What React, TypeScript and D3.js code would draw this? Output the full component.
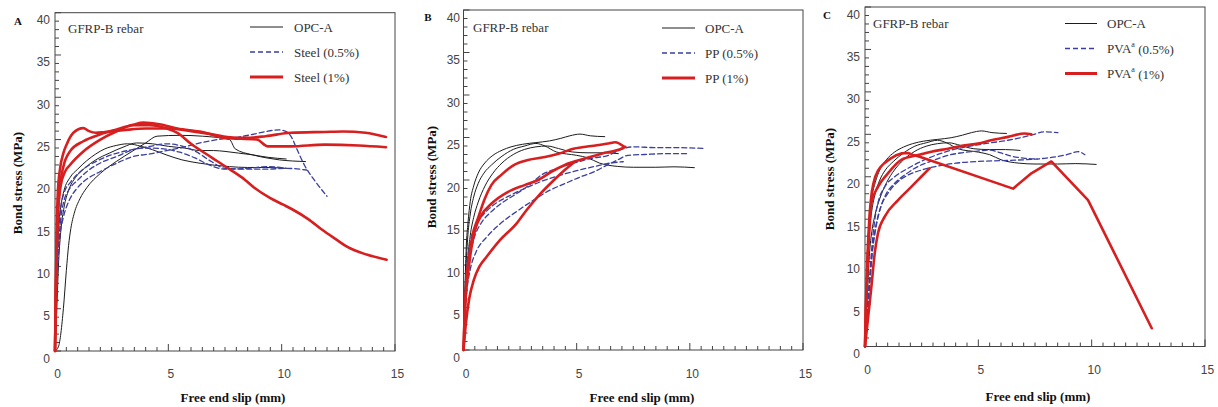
import React from 'react';
import * as d3 from 'd3';

type Pt = [number, number];

// ---------- tick labels / texts ----------
const X_TICKS = [0, 5, 10, 15];
const Y_TICKS = [0, 5, 10, 15, 20, 25, 30, 35, 40];
const PANEL_LETTERS = ['A', 'B', 'C'];
const NOTE = 'GFRP-B rebar';
const X_TITLE = 'Free end slip (mm)';
const Y_TITLE = 'Bond stress (MPa)';
const LEGEND_A = ['OPC-A', 'Steel (0.5%)', 'Steel (1%)'];
const LEGEND_B = ['OPC-A', 'PP (0.5%)', 'PP (1%)'];
const LEGEND_C = ['OPC-A', 'PVA^a (0.5%)', 'PVA^a (1%)'];

// ---------- Panel A data (slip mm, stress MPa) ----------
const A_OPC_1: Pt[] = [[0,0],[0.15,0.5],[0.37,5],[0.5,9.5],[0.6,12.5],[0.7,14.5],[0.85,16.3],[1.1,18],[1.4,19.3],[2,21],[2.7,22.4],[3.4,23.6],[4,24.6],[4.5,25.4],[5.5,25.5],[6.5,25.4],[7.7,25.0],[7.95,23.9],[8.7,23.2],[9.4,22.8],[9.9,22.6],[11.05,22.4]];
const A_OPC_2: Pt[] = [[0,0],[0.05,6],[0.1,11],[0.15,14.5],[0.25,17],[0.4,19],[0.66,20.5],[1,21.5],[1.4,22.5],[1.8,23.3],[2.2,23.9],[2.7,24.3],[3.2,24.5],[3.8,24.2],[4.3,23.8],[4.9,23.2],[5.6,22.6],[6.4,22.2],[7.7,21.8],[8.5,21.7],[9.3,21.7],[10.2,21.6]];
const A_OPC_3: Pt[] = [[0,0],[0.08,5],[0.15,10],[0.25,14],[0.4,17],[0.6,19],[0.9,20.5],[1.3,21.6],[1.8,22.6],[2.4,23.4],[3,24.1],[3.6,24.6],[4.3,24.5],[5,24.2],[5.7,24],[6.4,23.7],[7,23.7],[7.5,23.6],[8.1,23.4],[8.7,23.2],[9.4,22.9],[10.2,22.7]];
const A_STEEL05_1: Pt[] = [[0,0],[0.05,5],[0.12,10],[0.2,13.2],[0.35,15.6],[0.5,17],[0.66,18],[0.96,19.2],[1.25,20],[1.98,21.2],[2.72,22.2],[3.45,23],[4.19,23.3],[4.93,23.7],[5.66,24.1],[6.4,24.6],[7.72,25.2],[8.1,25.3],[8.7,25.6],[9.4,26.0],[9.85,26.15],[10.2,25.95],[10.45,25.2],[10.65,24],[11.0,22],[11.5,20],[12.0,18.3]];
const A_STEEL05_2: Pt[] = [[0,0],[0.06,6],[0.15,12],[0.25,15.5],[0.4,17.8],[0.6,19],[1,20.2],[1.4,21.2],[1.98,22.2],[2.72,23],[3.45,23.8],[4.19,24.2],[4.9,24.5],[5.5,24.3],[6.2,23.6],[6.9,22.4],[7.5,21.6],[8.5,21.5],[9.3,21.5],[10.2,21.6],[11.1,21.4]];
const A_STEEL05_3: Pt[] = [[0,0],[0.05,6],[0.12,12],[0.22,16],[0.4,18.7],[0.7,20],[1.2,21.4],[1.8,22.4],[2.5,23.2],[3.2,23.7],[4,24],[4.8,23.9],[5.5,23.5],[6.2,22.8],[6.8,22],[7.5,21.5],[8.5,21.6],[9.4,21.8],[10.2,21.6]];
const A_STEEL1_1: Pt[] = [[0,0],[0.04,8],[0.08,15],[0.13,19],[0.22,21.5],[0.37,23.4],[0.51,24.4],[0.81,25.8],[1.25,26.35],[1.5,26.0],[1.8,25.8],[2.2,25.9],[3,26.1],[4,26.3],[5,26.3],[6,26.0],[7,25.6],[7.6,25.3],[8.4,25.2],[9.3,25.4],[10.4,25.8],[11.9,25.9],[12.7,25.95],[13.7,25.8],[14.6,25.3]];
const A_STEEL1_2: Pt[] = [[0,0],[0.05,8],[0.1,14],[0.2,19],[0.37,21.8],[0.66,23.6],[1.25,24.8],[1.98,25.6],[2.72,26.2],[3.45,26.75],[3.9,27.0],[4.6,26.8],[5.4,26.3],[6.5,25.9],[7.5,25.2],[8.9,25.0],[9.4,24.2],[10.4,24.2],[11.9,24.4],[13.4,24.3],[14.6,24.1]];
const A_STEEL1_3: Pt[] = [[0,0],[0.05,9],[0.12,16],[0.25,19.5],[0.44,21.2],[0.66,22],[1.25,23.6],[2,25],[2.7,25.95],[3.45,26.7],[4.2,26.7],[4.9,26.35],[5.4,25.8],[6,24.5],[6.9,22.9],[7.7,21.5],[8.4,20.2],[8.75,19.4],[9.48,18.1],[10.07,17.3],[10.5,16.7],[11.17,15.6],[11.8,14.3],[12.4,13.2],[12.9,12.3],[13.75,11.4],[14.63,10.8]];

// ---------- Panel B data ----------
const B_OPC_1: Pt[] = [[0,0],[0.03,4],[0.07,8],[0.12,12],[0.2,15],[0.3,17.5],[0.45,19.3],[0.65,20.8],[0.94,22],[1.3,22.9],[1.7,23.5],[2.1,23.9],[2.6,24.2],[3.2,24.4],[3.8,24.6],[4.3,24.9],[4.7,25.2],[5.15,25.4],[5.6,25.2],[6.24,25.1]];
const B_OPC_2: Pt[] = [[0,0],[0.04,4],[0.1,9],[0.18,13],[0.3,16],[0.45,18],[0.65,19.6],[0.9,20.8],[1.25,21.8],[1.7,22.8],[2.2,23.6],[2.7,24.0],[3.2,24.3],[3.6,24.0],[4.1,23.3],[5,22.9],[5.5,22.6],[6,22],[6.8,21.6],[7.5,21.5],[8.5,21.5],[9.3,21.55],[10.2,21.45]];
const B_OPC_3: Pt[] = [[0,0],[0.05,3],[0.12,7],[0.2,11],[0.3,13.5],[0.45,15.6],[0.65,17.4],[0.95,19.3],[1.3,20.8],[1.7,22],[2.2,23],[2.7,23.6],[3.2,23.9],[3.7,24.0],[4.2,23.7],[4.8,23.3],[5.5,23.2],[6.2,23.2],[6.84,23.1]];
const B_PP05_1: Pt[] = [[0,0],[0.05,4],[0.12,7.5],[0.25,10.5],[0.45,13],[0.75,14.8],[1.2,16.2],[1.7,17.3],[2.35,18.4],[2.9,19.4],[3.45,20.6],[4.2,21.4],[4.9,22],[5.65,22.55],[6.4,22.9],[6.97,23.6],[7.5,23.9],[8.6,23.8],[9.5,23.8],[10.67,23.7]];
const B_PP05_2: Pt[] = [[0,0],[0.06,4],[0.15,7],[0.3,9.5],[0.55,11.5],[1.03,13.3],[1.6,14.8],[2.35,16.3],[3.08,17.6],[3.82,18.8],[4.5,19.6],[5.2,20.4],[5.8,21],[6.3,21.7],[6.8,22.35],[7.27,22.9],[8,23.0],[9,23.1],[9.93,23.1]];
const B_PP05_3: Pt[] = [[0,0],[0.05,5],[0.12,9],[0.25,12],[0.5,14.5],[0.9,16],[1.4,17.2],[2,18.1],[2.7,19],[3.4,19.8],[4.2,20.5],[5,21.1],[5.8,21.6],[6.5,22],[7.06,22.15]];
const B_PP1_1: Pt[] = [[0,0],[0.05,4],[0.12,8],[0.25,11],[0.4,13.5],[0.64,15.5],[0.94,17.8],[1.23,19.4],[1.67,20.6],[2.26,21.8],[2.85,22.35],[3.6,22.7],[4.2,23.1],[4.9,23.7],[5.65,24.0],[6.4,24.3],[6.7,24.45],[7.1,23.9]];
const B_PP1_2: Pt[] = [[0,0],[0.05,4],[0.12,7],[0.2,9],[0.35,12],[0.5,14],[0.8,15.9],[1.23,17.2],[1.97,18.6],[2.7,19.4],[3.3,20.0],[3.9,21],[4.5,21.8],[5.4,22.55],[6.1,23.1],[7,23.7],[7.15,23.9]];
const B_PP1_3: Pt[] = [[0,0],[0.1,3],[0.25,6],[0.45,8.2],[0.7,9.8],[1.03,11],[1.6,12.9],[2.35,14.9],[2.8,16.5],[3.4,18.4],[4,20],[4.4,21],[4.85,22]];

// ---------- Panel C data ----------
const C_OPC_1: Pt[] = B_OPC_1;
const C_OPC_2: Pt[] = B_OPC_2;
const C_OPC_3: Pt[] = B_OPC_3;
const C_PVA05_1: Pt[] = [[0,0],[0.1,4],[0.2,8],[0.28,11],[0.43,14.9],[0.57,16.9],[0.87,18.8],[1.31,20],[1.9,21],[2.63,22],[3.52,22.9],[4.4,23.5],[5.28,23.9],[6.31,24.3],[7.34,24.9],[7.93,25.3],[8.51,25.2]];
const C_PVA05_2: Pt[] = [[0,0],[0.08,3],[0.15,6],[0.25,9],[0.35,12],[0.5,14.5],[0.7,16.5],[1,18],[1.4,19.3],[1.9,20.2],[2.5,20.8],[3.1,21.2],[4,21.6],[5,21.8],[6,21.9],[7,22.0],[8,22.2],[8.9,22.6],[9.4,22.95],[9.7,22.6]];
const C_PVA05_3: Pt[] = [[0,0],[0.1,3],[0.2,7],[0.3,10.5],[0.45,13.5],[0.65,16],[0.9,17.8],[1.3,19.2],[1.8,20.3],[2.4,21.3],[3.0,21.9],[3.5,22.4],[4.2,22.8],[4.9,23.0],[5.5,23.15],[6.0,22.8],[6.5,22.4],[7,22.2],[7.6,22.1]];
const C_PVA1_1: Pt[] = [[0,0],[0.03,4],[0.06,7],[0.1,10],[0.13,12],[0.17,14],[0.2,15.5],[0.25,17],[0.3,18.2],[0.37,19.2],[0.45,20],[0.57,20.7],[0.7,21.2],[0.85,21.6],[1.0,21.9],[1.16,22.2],[1.35,22.5],[1.6,22.75],[1.9,22.8],[2.1,22.6],[2.41,22.35],[6.53,18.6],[7.34,20.4],[8.22,21.8],[9.84,17.25],[12.65,2.15]];
const C_PVA1_2: Pt[] = [[0,0],[0.05,5],[0.12,10],[0.2,14],[0.28,16.9],[0.57,18.8],[1.01,20.4],[1.6,22],[2.34,22.55],[2.92,22.95],[3.66,23.3],[4.4,23.7],[4.98,23.9],[5.57,24.3],[6.31,24.7],[7.04,25.1],[7.34,25.0]];
const C_PVA1_3: Pt[] = [[0,0],[0.12,3],[0.28,7],[0.43,11],[0.57,13.3],[0.87,15.3],[1.46,17.25],[2.04,18.8],[2.48,20],[2.85,21]];

type Series = { data: Pt[]; kind: 'opc' | 'half' | 'one'; linear?: boolean };

const PANEL_SERIES: Series[][] = [
  [
    { data: A_OPC_1, kind: 'opc' }, { data: A_OPC_2, kind: 'opc' }, { data: A_OPC_3, kind: 'opc' },
    { data: A_STEEL05_1, kind: 'half' }, { data: A_STEEL05_2, kind: 'half' }, { data: A_STEEL05_3, kind: 'half' },
    { data: A_STEEL1_1, kind: 'one' }, { data: A_STEEL1_2, kind: 'one' }, { data: A_STEEL1_3, kind: 'one' },
  ],
  [
    { data: B_OPC_1, kind: 'opc' }, { data: B_OPC_2, kind: 'opc' }, { data: B_OPC_3, kind: 'opc' },
    { data: B_PP05_1, kind: 'half' }, { data: B_PP05_2, kind: 'half' }, { data: B_PP05_3, kind: 'half' },
    { data: B_PP1_1, kind: 'one' }, { data: B_PP1_2, kind: 'one' }, { data: B_PP1_3, kind: 'one' },
  ],
  [
    { data: C_OPC_1, kind: 'opc' }, { data: C_OPC_2, kind: 'opc' }, { data: C_OPC_3, kind: 'opc' },
    { data: C_PVA05_1, kind: 'half' }, { data: C_PVA05_2, kind: 'half' }, { data: C_PVA05_3, kind: 'half' },
    { data: C_PVA1_1, kind: 'one', linear: true }, { data: C_PVA1_2, kind: 'one' }, { data: C_PVA1_3, kind: 'one' },
  ],
];
const LEGENDS = [LEGEND_A, LEGEND_B, LEGEND_C];

// ---------- layout (pixels) ----------
const LAYOUT = [
  { left: 55, right: 395, top: 12.7, bottom: 351, letter: [18, 21], note: [68, 28], leg: [250, 283, 294, 27], yT: [17, 183], xT: [233, 397], xTickY: 374, yLabR: 50 },
  { left: 463.5, right: 803, top: 10, bottom: 350, letter: [428, 17], note: [473, 27], leg: [662, 695, 705, 28], yT: [431, 177], xT: [642, 397], xTickY: 374, yLabR: 460 },
  { left: 865, right: 1205, top: 7, bottom: 346.5, letter: [827, 15], note: [873, 23], leg: [1065, 1097, 1107, 23.5], yT: [829, 179], xT: [1038, 396], xTickY: 370, yLabR: 860 },
];

const STYLE = {
  opc: { stroke: '#1c1c1c', width: 1, dash: undefined as string | undefined },
  half: { stroke: '#3a3f9e', width: 1.3, dash: '5,3' },
  one: { stroke: '#d71f1f', width: 2.6, dash: undefined as string | undefined },
};
const KINDS: ('opc' | 'half' | 'one')[] = ['opc', 'half', 'one'];

const SERIF = '"Liberation Serif", "Times New Roman", serif';
const SANS = '"Liberation Sans", Arial, sans-serif';

function LegendLabel({ text }: { text: string }) {
  const i = text.indexOf('^');
  if (i < 0) return <>{text}</>;
  const base = text.slice(0, i);
  const sup = text.slice(i + 1, i + 2);
  const rest = text.slice(i + 2);
  return (
    <>
      {base}
      <tspan fontSize={8} dy={-5}>{sup}</tspan>
      <tspan dy={5}>{rest}</tspan>
    </>
  );
}

function Panel({ idx }: { idx: number }) {
  const L = LAYOUT[idx];
  const x = d3.scaleLinear().domain([0, 15]).range([L.left, L.right]);
  const y = d3.scaleLinear().domain([0, 40]).range([L.bottom, L.top]);
  const smooth = d3.line<Pt>().x(d => x(d[0])).y(d => y(d[1])).curve(d3.curveMonotoneX);
  const straight = d3.line<Pt>().x(d => x(d[0])).y(d => y(d[1])).curve(d3.curveLinear);
  const xMinor = d3.range(0, 15.001, 0.5);
  const yMinor = d3.range(0, 40.001, 1);
  const series = PANEL_SERIES[idx];
  const legend = LEGENDS[idx];
  return (
    <g>
      <rect x={L.left} y={L.top} width={L.right - L.left} height={L.bottom - L.top} fill="none" stroke="#444" strokeWidth={1} />
      {xMinor.map(v => {
        const major = Math.abs(v % 5) < 1e-6;
        return <line key={'xt' + v} x1={x(v)} x2={x(v)} y1={L.bottom} y2={L.bottom - (major ? 7 : 4)} stroke="#444" strokeWidth={1} />;
      })}
      {yMinor.map(v => {
        const major = Math.abs(v % 5) < 1e-6;
        return <line key={'yt' + v} x1={L.left} x2={L.left + (major ? 6 : 4)} y1={y(v)} y2={y(v)} stroke="#444" strokeWidth={1} />;
      })}
      {X_TICKS.map(v => (
        <text key={'xl' + v} x={x(v) + 2.5} y={L.xTickY} textAnchor="middle" dominantBaseline="central" fontFamily={SANS} fontSize={12} fill="#444">{v}</text>
      ))}
      {Y_TICKS.map(v => (
        <text key={'yl' + v} x={L.yLabR} y={y(v) + 7.5} textAnchor="end" dominantBaseline="central" fontFamily={SANS} fontSize={12} fill="#444">{v}</text>
      ))}
      <text x={L.xT[0]} y={L.xT[1]} textAnchor="middle" dominantBaseline="central" fontFamily={SERIF} fontWeight="bold" fontSize={13} fill="#111">{X_TITLE}</text>
      <text transform={`translate(${L.yT[0]},${L.yT[1]}) rotate(-90)`} textAnchor="middle" dominantBaseline="central" fontFamily={SERIF} fontWeight="bold" fontSize={13} fill="#111">{Y_TITLE}</text>
      <text x={L.letter[0]} y={L.letter[1]} textAnchor="middle" dominantBaseline="central" fontFamily={SERIF} fontWeight="bold" fontSize={11} fill="#111">{PANEL_LETTERS[idx]}</text>
      <text x={L.note[0]} y={L.note[1]} dominantBaseline="central" fontFamily={SERIF} fontSize={13} fill="#333">{NOTE}</text>
      {KINDS.map(k =>
        series.filter(s => s.kind === k).map((s, i) => (
          <path key={k + i} d={(s.linear ? straight : smooth)(s.data) || ''} fill="none"
            stroke={STYLE[k].stroke} strokeWidth={STYLE[k].width} strokeDasharray={STYLE[k].dash}
            strokeLinejoin="round" strokeLinecap="round" />
        ))
      )}
      {KINDS.map((k, i) => {
        const yy = L.leg[3] + i * 25;
        return (
          <g key={'lg' + k}>
            <line x1={L.leg[0]} x2={L.leg[1]} y1={yy} y2={yy} stroke={STYLE[k].stroke} strokeWidth={k === 'one' ? 3 : STYLE[k].width} strokeDasharray={STYLE[k].dash} />
            <text x={L.leg[2]} y={yy} dominantBaseline="central" fontFamily={SERIF} fontSize={13} fill="#333"><LegendLabel text={legend[i]} /></text>
          </g>
        );
      })}
    </g>
  );
}

export default function App() {
  return (
    <svg width={1218} height={407} style={{ position: 'absolute', left: 0, top: 0, background: '#fff' }}>
      {[0, 1, 2].map(i => <Panel key={i} idx={i} />)}
    </svg>
  );
}
